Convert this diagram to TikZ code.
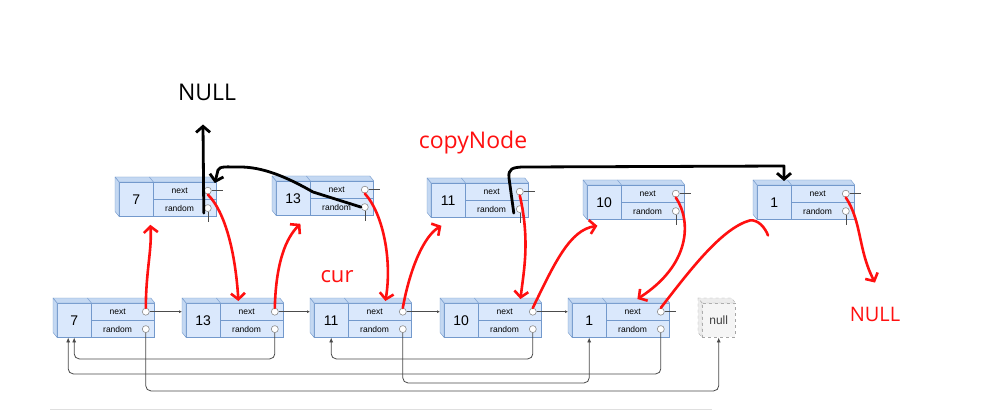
\documentclass[tikz,border=0pt]{standalone}
\usepackage{fontspec}
\usetikzlibrary{arrows.meta,positioning}

\newfontfamily\handfont{Open Sans}
\newfontfamily\boxfont{Liberation Sans}
\definecolor{boxfill}{HTML}{DAE8FC}
\definecolor{boxline}{HTML}{7399CC}
\definecolor{boxside}{HTML}{C4D8F2}
\definecolor{portline}{HTML}{8C8C8C}
\definecolor{pen}{HTML}{FF1010}
\definecolor{linkgray}{HTML}{4A4A4A}
\newcommand\ptrtext[1]{\makebox[63pt][l]{\makebox[52pt]{#1}}}

\begin{document}
\begin{tikzpicture}[x=1pt, y=-1pt,
    valcell/.style={
        rectangle, draw=boxline, fill=boxfill, anchor=north west,
        minimum width=34pt, minimum height=34pt, inner sep=0pt,
        font=\boxfont\fontsize{14}{15}\selectfont
    },
    ptrcell/.style={
        rectangle, draw=boxline, fill=boxfill, anchor=north west,
        minimum width=63pt, minimum height=17pt, inner sep=0pt,
        font=\boxfont\fontsize{8.5}{9}\selectfont
    },
    nullcell/.style={
        rectangle, draw=gray!70, dashed, fill=gray!8, anchor=north west,
        minimum width=33pt, minimum height=34pt, inner sep=0pt,
        font=\boxfont\fontsize{12}{13}\selectfont, text=black!75
    },
    face/.style={draw=boxline, fill=boxside, line join=round},
    port/.style={circle, draw=portline, fill=white, line width=0.6pt,
        minimum size=7pt, inner sep=0pt},
    stub/.style={draw=black!70, line width=0.6pt},
    ptr/.style={draw=black!70, line width=0.6pt, -{Latex[length=3pt,width=3pt]}},
    link/.style={draw=linkgray, line width=0.8pt, rounded corners=5pt,
        -{Latex[length=5pt,width=4pt]}},
    redpen/.style={draw=pen, line width=2.6pt, line cap=round, line join=round,
        -{Straight Barb[length=6pt,width=14pt]}},
    blackpen/.style={draw=black, line width=2.8pt, line cap=round, line join=round,
        -{Straight Barb[length=6pt,width=14pt]}},
    pentext/.style={font=\handfont\fontsize{23}{26}\selectfont, text=pen, inner sep=2pt}
]
\path[fill=white] (0,0) rectangle (991,417);
\useasboundingbox (0,0) rectangle (991,417);

% list nodes: bottom row is the original list, top row the copies
\foreach \n/\x/\y/\v in {b7/57/303/7, b13/186/303/13, b11/314/303/11,
        b10/444/303/10, b1/572/303/1, t7/119/182/7, t13/276/181/13,
        t11/431/183/11, t10/587/185/10, t1/757/185/1} {
    \node[valcell] (\n) at (\x,\y) {\v};
    \node[ptrcell] (\n-n) at (\n.north east) {\ptrtext{next}};
    \node[ptrcell] (\n-r) at (\n-n.south west) {\ptrtext{random}};
    \filldraw[face] (\n.north west) -- ++(-4pt,5pt)
        -- ([shift={(-4pt,5pt)}]\n-n.north east) -- (\n-n.north east) -- cycle;
    \filldraw[face] (\n.north west) -- ++(-4pt,5pt)
        -- ([shift={(-4pt,5pt)}]\n.south west) -- (\n.south west) -- cycle;
    \draw[boxline] (\n.north east) -- ++(-4pt,5pt);
    \node[port] (\n-nc) at ([xshift=-9pt]\n-n.east) {};
    \node[port] (\n-rc) at ([xshift=-9pt]\n-r.east) {};
}

\node[nullcell] (null) at (702,303) {null};
\filldraw[face, draw=gray!70, fill=gray!15, dashed] (null.north west) -- ++(-4pt,5pt)
    -- ([shift={(-4pt,5pt)}]null.north east) -- (null.north east) -- cycle;
\filldraw[face, draw=gray!70, fill=gray!15, dashed] (null.north west) -- ++(-4pt,5pt)
    -- ([shift={(-4pt,5pt)}]null.south west) -- (null.south west) -- cycle;

% next pointers of the original list
\foreach \a/\b in {b7/b13, b13/b11, b11/b10, b10/b1}
    \draw[ptr, shorten >=4pt] (\a-nc.east) -- (\a-nc -| \b.west);
\draw[stub] (b1-nc.east) -- ([xshift=6pt]b1-n.east);
\foreach \n in {t7, t13, t11, t10, t1} {
    \draw[stub] (\n-nc.east) -- ([xshift=6pt]\n-n.east);
    \draw[stub] (\n-rc.south) -- ++(0,10);
}

% random pointers of the original list
\draw[link] (b13-rc.south) -- ++(0,26) -| (b7.south);
\draw[link] (b1-rc.south) -- ++(0,41) -| ([xshift=-6pt]b7.south);
\draw[link] (b7-rc.south) -- ++(0,58) -| (null.south);
\draw[link] (b11-rc.south) -- ++(0,50) -| (b1.south);
\draw[link] (b10-rc.south) -- ++(0,26) -| (b11.south);
\draw[gray!25, line width=0.8pt] (50,409) -- (712,409);

% labels
\node[pentext, text=black] (nullK) at (207,92) {NULL};
\node[pentext] (copyNode) at (473,143) {copyNode};
\node[pentext, font=\handfont\fontsize{22}{24}\selectfont] (cur) at (337,277) {cur};
\node[pentext, font=\handfont\fontsize{20}{24}\selectfont] (nullR) at (875,314) {NULL};

% red: weaving the copies into the list
\draw[redpen] (b7-nc.north) .. controls (146,270) and (152,250) .. ([xshift=-3pt,yshift=-8pt]t7-r.south west);
\draw[redpen] (t7-nc.south) .. controls (228,215) and (236,262) .. ([xshift=18pt,yshift=2pt]b13-n.north west);
\draw[redpen] (b13-nc.north) .. controls (276,262) and (286,238) .. ([xshift=-10pt,yshift=-8pt]t13-r.south west);
\draw[redpen] (t13-nc.south) .. controls (384,215) and (392,262) .. ([xshift=37pt,yshift=2pt]b11-n.north west);
\draw[redpen] (b11-nc.north) .. controls (410,268) and (424,236) .. ([xshift=-24pt,yshift=-8pt]t11-r.south west);
\draw[redpen] (t11-nc.south) .. controls (530,240) and (524,270) .. ([xshift=42pt,yshift=4pt]b10-n.north west);
\draw[redpen] (b10-nc.north) .. controls (555,262) and (570,230) .. ([xshift=-24pt,yshift=-6pt]t10-r.south west);
\draw[redpen] (t10-nc.south) .. controls (692,222) and (690,265) .. ([xshift=31pt,yshift=4pt]b1-n.north west);
\draw[redpen, -] (b1-nc.north) .. controls (690,270) and (722,228) .. ([xshift=-7pt,yshift=-1pt]t1.south west)
    .. controls +(8pt,1pt) and +(-3pt,8pt) .. ++(18pt,-15pt);
\draw[redpen] (t1-nc.south) .. controls (862,222) and (858,250) .. ([yshift=22pt]nullR.north);

% black: random pointers of the copies
\draw[blackpen] ([xshift=-4pt,yshift=-5pt]t7-rc.center) -- ([xshift=-4pt,yshift=-22pt]nullK.south);
\draw[blackpen] (t13-rc.west) -- (313,192) .. controls (285,176) and (262,167) .. (240,167)
    .. controls (226,167) and (220,166) .. (218,170) -- ([xshift=-2pt,yshift=-1pt]t7-n.north east);
\draw[blackpen] ([xshift=-6pt,yshift=-4pt]t11-rc.center) -- (509,178)
    .. controls (508,169) and (512,167) .. (525,167) -- (784,166)
    -- ([xshift=27pt,yshift=4pt]t1.north west);
\end{tikzpicture}
\end{document}
